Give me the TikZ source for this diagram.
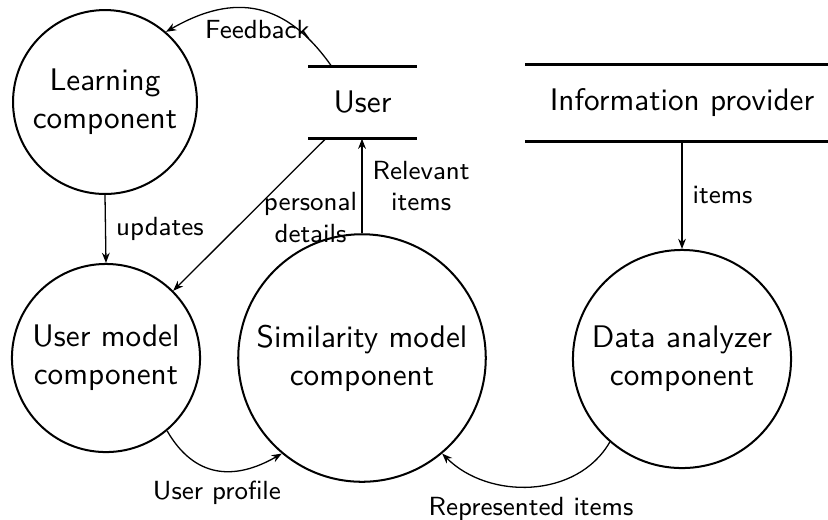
\documentclass[tikz,border=0pt]{standalone}
\usetikzlibrary{calc,arrows.meta}
\begin{document}
\begin{tikzpicture}[x=0.3333pt,y=-0.3333pt,
  proc/.style={circle, draw, line width=0.67pt, inner sep=0pt, align=center,
    font=\sffamily\fontsize{10.4}{12.7}\selectfont},
  store/.style={rectangle, inner sep=0pt, font=\sffamily\fontsize{10.4}{12.7}\selectfont},
  storeline/.style={line width=0.9pt},
  flow/.style={-{Stealth[length=3.4pt, width=2.6pt, inset=1.1pt]}, line width=0.43pt},
  lbl/.style={font=\sffamily\fontsize{8.75}{10.5}\selectfont, align=center}]
\useasboundingbox (0,0) rectangle (828,519);

% processes
\node[proc, minimum size=61.3pt] (learn) at (105,102) {Learning\\component};
\node[proc, minimum size=62.7pt] (umodel) at (106,358) {User model\\component};
\node[proc, minimum size=82.5pt] (sim) at (362,358) {Similarity model\\component};
\node[proc, minimum size=72.7pt] (data) at (682,359) {Data analyzer\\component};

% stores
\node[store, minimum width=35.7pt, minimum height=23.7pt] (user) at (362.5,102.5) {User};
\draw[storeline] (user.north west) -- (user.north east);
\draw[storeline] (user.south west) -- (user.south east);
\node[store, minimum width=104pt, minimum height=25.3pt] (info) at (682,103) {Information provider};
\draw[storeline] (info.north west) -- (info.north east);
\draw[storeline] (info.south west) -- (info.south east);

% flows
\draw[flow] ($(user.north west)!0.215!(user.north east)$) to[out=125, in=30, looseness=1.2]
  node[lbl, pos=0.5, below] {Feedback} (learn.49);
\draw[flow] ($(user.south west)!0.16!(user.south east)$) -- (umodel.45)
  node[lbl, pos=0.52, anchor=west, xshift=2.3pt] {personal\\details};
\draw[flow] (sim.north) -- (sim.north |- user.south)
  node[lbl, midway, right] {Relevant\\items};
\draw[flow] (learn.south) -- (umodel.north)
  node[lbl, midway, right] {updates};
\draw[flow] (info.south) -- (data.north)
  node[lbl, midway, right] {items};
\draw[flow] (umodel.-50) to[out=-60, in=-150, looseness=1.2]
  node[lbl, midway, below] {User profile} (sim.-130);
\draw[flow] (data.-131) to[out=-120, in=-45]
  node[lbl, midway, below] {Represented items} (sim.-50);
\end{tikzpicture}
\end{document}
